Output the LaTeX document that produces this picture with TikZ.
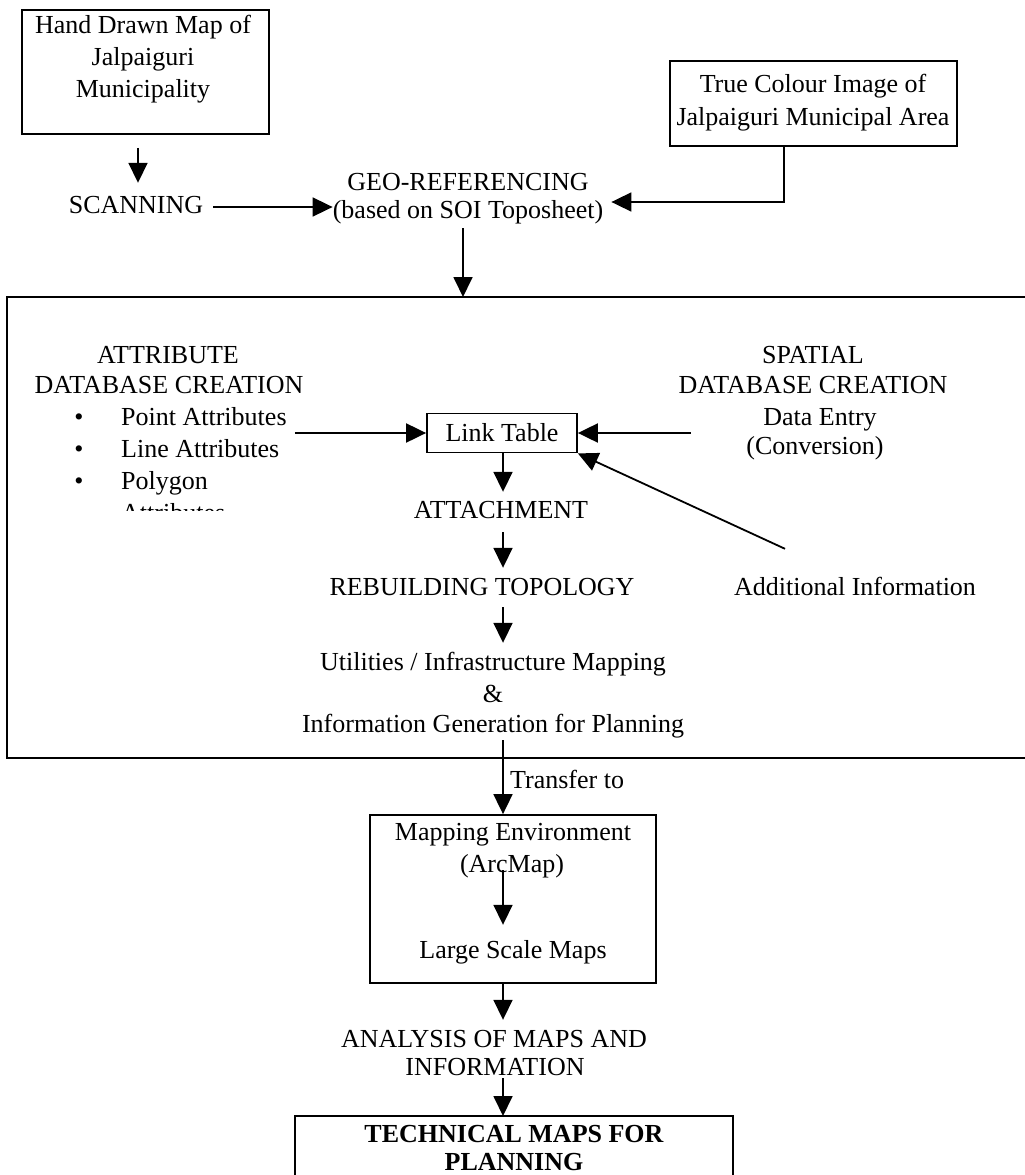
\documentclass[tikz,border=0pt]{standalone}
\usepackage{fontspec}
\setmainfont{Liberation Serif}
\usetikzlibrary{arrows.meta,calc}
\begin{document}
\begin{tikzpicture}[x=1pt,y=-1pt,
  txt/.style={inner sep=0pt, text height=18pt, text depth=6pt, anchor=base, font=\fontsize{26}{30}\selectfont},
  box/.style={draw, line width=1.8pt, inner sep=0pt, font=\fontsize{26}{30}\selectfont},
  conn/.style={line width=1.8pt, line join=miter},
  arr/.style={conn, -{Triangle[length=20pt,width=19pt]}},
]
\useasboundingbox (0,0) rectangle (1025,1175);
\fill[white] (0,0) rectangle (1025,1175);
\coordinate (axis) at (503,0);

% top boxes
\node[box, minimum width=247pt, minimum height=124pt] (hand) at (145.5,72) {};
\node[txt] (hand1) at (143,33) {Hand Drawn Map of};
\node[txt] (hand2) at (143,65) {Jalpaiguri};
\node[txt] (hand3) at (143,97) {Municipality};

\node[box, minimum width=287pt, minimum height=85pt] (truebox) at (813.5,103.5) {};
\node[txt] (true1) at (813,92) {True Colour Image of};
\node[txt] (true2) at (813,125) {Jalpaiguri Municipal Area};

\node[txt] (scan) at (136,213) {SCANNING};
\node[txt] (geo1) at (468,190) {GEO-REFERENCING};
\node[txt] (geo2) at (468,218) {(based on SOI Toposheet)};

% container
\draw[conn] (1025,297) -- (7,297) -- (7,758) -- (1025,758);
\coordinate (dbtop) at (463,297);

\node[txt] (attr1) at (168,363) {ATTRIBUTE};
\node[txt] (attr2) at (169,393) {DATABASE CREATION};
\node[txt] (b1) at (79,425) {\textbullet};
\node[txt] (b2) at (79,457) {\textbullet};
\node[txt] (b3) at (79,489) {\textbullet};
\node[txt, anchor=base west] (ptattr) at (121,425) {Point Attributes};
\node[txt, anchor=base west] (lnattr) at (121,457) {Line Attributes};
\node[txt, anchor=base west] (poly) at (121,489) {Polygon};
\begin{scope}
\clip (100,495) rectangle (400,510);
\node[txt, anchor=base west] (polyattr) at (121,521) {Attributes};
\end{scope}

\node[txt] (sp1) at (813,363) {SPATIAL};
\node[txt] (sp2) at (813,393) {DATABASE CREATION};
\node[txt] (dataentry) at (820,425) {Data Entry};
\node[txt] (conv) at (815,454) {(Conversion)};

\node[box, minimum width=150pt, minimum height=39pt] (link) at (502,433) {Link Table};

\node[txt] (attach) at (501,518) {ATTACHMENT};
\node[txt] (rebuild) at (482,595) {REBUILDING TOPOLOGY};
\node[txt] (addinfo) at (855,595) {Additional Information};
\node[txt] (util1) at (493,670) {Utilities / Infrastructure Mapping};
\node[txt] (amp) at (493,702) {\&};
\node[txt] (util3) at (493,732) {Information Generation for Planning};

\node[txt, anchor=base west] (transfer) at (510,788) {Transfer to};

% mapping box
\node[box, minimum width=286pt, minimum height=168pt] (mapbox) at (513,899) {};
\node[txt] (mapenv) at (513,840) {Mapping Environment};
\node[txt] (arcmap) at (512,872) {(ArcMap)};
\node[txt] (largemaps) at (513,958) {Large Scale Maps};

\node[txt] (analysis1) at (494,1047) {ANALYSIS OF MAPS AND};
\node[txt] (analysis2) at (495,1075) {INFORMATION};

% technical box (cut by page edge)
\draw[conn] (295,1175) -- (295,1116) -- (733,1116) -- (733,1175);
\coordinate (techtop) at (503,1116);
\node[txt, font=\fontsize{26}{30}\selectfont\bfseries] (tech1) at (514,1142) {TECHNICAL MAPS FOR};
\node[txt, font=\fontsize{26}{30}\selectfont\bfseries] (tech2) at (514,1170) {PLANNING};

% connectors
\draw[arr] ($(hand.south)+(-7.5,13)$) -- ($(scan.north)+(2,-12)$);
\draw[arr] ($(scan.east)+(10,0)$) -- (scan.east -| geo2.west);
\draw[arr] ($(truebox.south)+(-29.5,0)$) |- ($(geo2.east)+(8,-10)$);
\draw[arr] ($(geo2.south)+(-5,4)$) -- (dbtop);
\draw[arr, line width=2pt] ($(link.west -| ptattr.east)+(8,0)$) -- (link.west);
\draw[arr, line width=2pt] ($(link.east)+(113,0)$) -- (link.east);
\draw[arr] ($(addinfo.north)+(-70,-28)$) -- (link.south east);
\draw[arr] (link.south -| axis) -- ($(attach.north -| axis)+(0,-8)$);
\draw[arr] ($(attach.south -| axis)+(0,8)$) -- ($(rebuild.north -| axis)+(0,-9)$);
\draw[arr] ($(rebuild.south -| axis)+(0,6)$) -- ($(util1.north -| axis)+(0,-9)$);
\draw[arr] ($(util3.south -| axis)+(0,2)$) -- (mapbox.north -| axis);
\draw[arr] ($(arcmap.center -| axis)+(0,4)$) -- ($(largemaps.north -| axis)+(0,-15)$);
\draw[arr] (mapbox.south -| axis) -- ($(analysis1.north -| axis)+(0,-9)$);
\draw[arr] ($(analysis2.south -| axis)+(0,-3)$) -- (techtop);
\end{tikzpicture}
\end{document}
